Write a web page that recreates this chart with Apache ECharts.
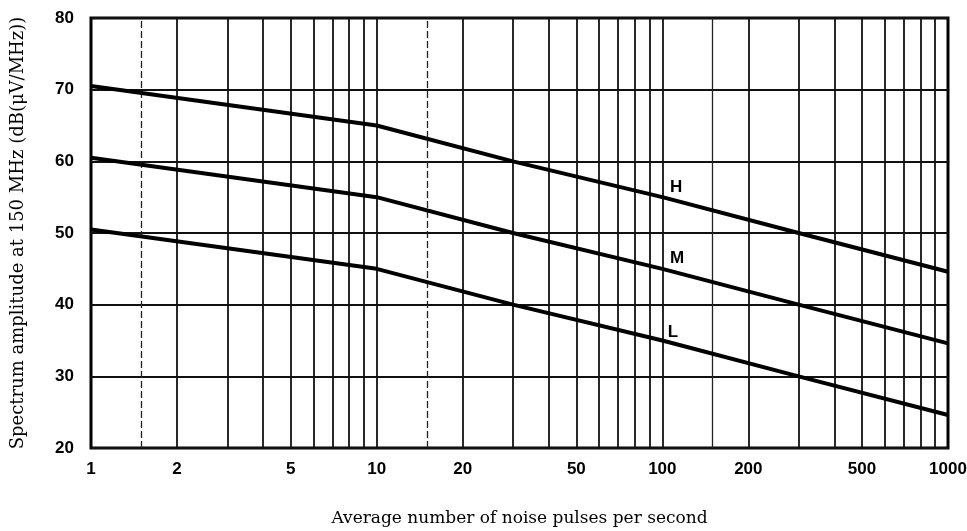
<!DOCTYPE html>
<html>
<head>
<meta charset="utf-8">
<script src="https://cdn.jsdelivr.net/npm/echarts@6/dist/echarts.min.js"></script>
<style>
html,body{margin:0;padding:0;background:#fff;}
#chart{width:967px;height:531px;}
</style>
</head>
<body>
<div id="chart"></div>
<script>
// Data
var pulsesPerSecond = [1, 10, 30, 100, 300, 1000];
var seriesH = [70.5, 65, 60, 55, 50, 44.6];
var seriesM = [60.5, 55, 50, 45, 40, 34.6];
var seriesL = [50.5, 45, 40, 35, 30, 24.6];
var seriesNames = ['H', 'M', 'L'];
var labelPositions = [[106, 56.4], [106, 46.4], [104, 36.2]];
var xTickLabels = [1, 2, 5, 10, 20, 50, 100, 200, 500, 1000];
var xGridSolid = [2, 3, 4, 5, 6, 7, 8, 9, 10, 20, 30, 40, 50, 60, 70, 80, 90, 100, 200, 300, 400, 500, 600, 700, 800, 900];
var xGridDashed = [1.5, 15];
var xGridThin = [150];

function pairs(xs, ys) { return xs.map(function (x, i) { return [x, ys[i]]; }); }

var gridLines = xGridSolid.map(function (v) {
  return { xAxis: v, lineStyle: { type: 'solid', width: 1.8, color: '#111' } };
}).concat(xGridDashed.map(function (v) {
  return { xAxis: v, lineStyle: { type: [7, 3], width: 1.3, color: '#222' } };
})).concat(xGridThin.map(function (v) {
  return { xAxis: v, lineStyle: { type: 'solid', width: 1.3, color: '#222' } };
}));

var allData = [seriesH, seriesM, seriesL];
var series = allData.map(function (vals, i) {
  return {
    name: seriesNames[i],
    type: 'line',
    data: pairs(pulsesPerSecond, vals),
    showSymbol: false,
    symbol: 'none',
    lineStyle: { color: '#000', width: 4 },
    z: 5,
    silent: true,
    markPoint: {
      symbol: 'circle',
      symbolSize: 1,
      itemStyle: { color: 'rgba(0,0,0,0)' },
      label: {
        show: true, position: 'right', distance: 0,
        formatter: seriesNames[i],
        color: '#000', fontWeight: 'bold', fontSize: 17,
        fontFamily: 'Liberation Sans, Arial, sans-serif'
      },
      data: [{ coord: labelPositions[i] }]
    }
  };
});
series[0].markLine = {
  silent: true,
  symbol: ['none', 'none'],
  label: { show: false },
  z: 1,
  data: gridLines
};

var chart = echarts.init(document.getElementById('chart'));
chart.setOption({
  animation: false,
  backgroundColor: '#fff',
  grid: {
    left: 91, right: 19, top: 18, bottom: 83,
    outerBoundsMode: 'none', containLabel: false,
    show: true, borderColor: '#000', borderWidth: 3, backgroundColor: 'transparent'
  },
  xAxis: {
    type: 'log', logBase: 10, min: 1, max: 1000,
    name: 'Average number of noise pulses per second',
    nameLocation: 'middle', nameGap: 62,
    nameTextStyle: { fontFamily: 'DejaVu Serif, serif', fontSize: 17, color: '#000' },
    axisLine: { show: false },
    axisTick: { show: false },
    splitLine: { show: false },
    minorSplitLine: { show: false },
    axisLabel: {
      customValues: xTickLabels,
      formatter: function (v) { return String(Math.round(v)); },
      color: '#000', fontWeight: 'bold', fontSize: 17, margin: 13,
      fontFamily: 'Liberation Sans, Arial, sans-serif'
    }
  },
  yAxis: {
    type: 'value', min: 20, max: 80, interval: 10,
    name: 'Spectrum amplitude at 150 MHz (dB(\u03bcV/MHz))',
    nameLocation: 'middle', nameGap: 64, nameRotate: 90,
    nameTextStyle: { fontFamily: 'DejaVu Serif, serif', fontSize: 18, color: '#000' },
    axisLine: { show: false },
    axisTick: { show: false },
    splitLine: { show: true, lineStyle: { color: '#111', width: 1.8 } },
    axisLabel: {
      color: '#000', fontWeight: 'bold', fontSize: 17, margin: 17,
      fontFamily: 'Liberation Sans, Arial, sans-serif'
    }
  },
  series: series
});
</script>
</body>
</html>
